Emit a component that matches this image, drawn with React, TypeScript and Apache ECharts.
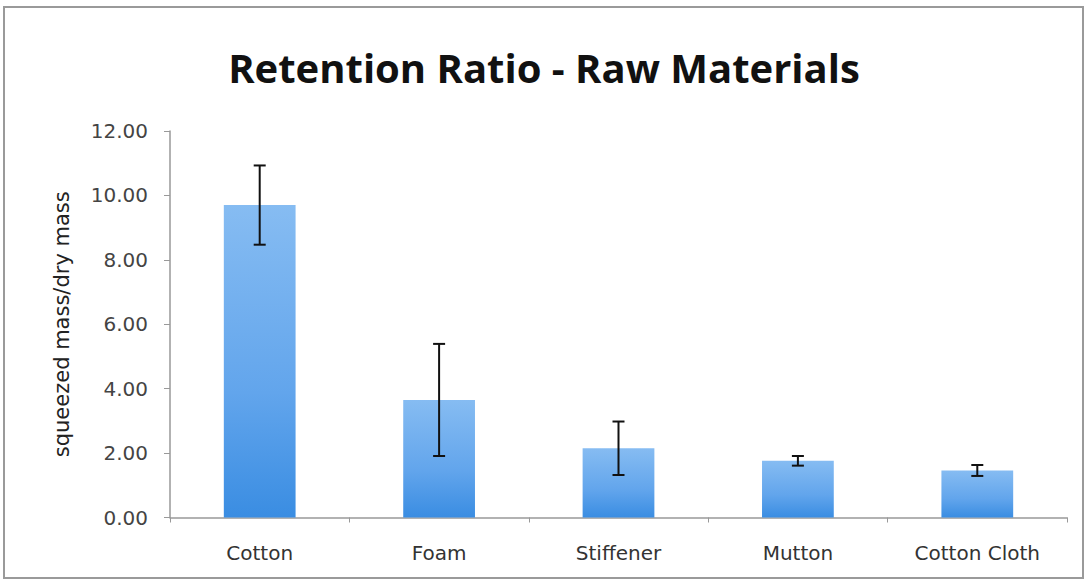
import React, { useEffect, useRef } from "react";
import * as echarts from "echarts";

const categories = ["Cotton", "Foam", "Stiffener", "Mutton", "Cotton Cloth"];
const means = [9.7, 3.65, 2.15, 1.76, 1.46];
const errors = [1.23, 1.74, 0.83, 0.15, 0.17];
const yTicks = { min: 0, max: 12, interval: 2 };

export default function App() {
  const ref = useRef<HTMLDivElement>(null);
  useEffect(() => {
    if (!ref.current) return;
    const chart = echarts.init(ref.current, null, { renderer: "svg" });
    const errData = categories.map((c, i) => [i, means[i] - errors[i], means[i] + errors[i]]);
    chart.setOption({
      animation: false,
      backgroundColor: "#ffffff",
      title: {
        text: "Retention Ratio - Raw Materials",
        left: "center",
        top: 42,
        textStyle: { fontFamily: "Open Sans", fontWeight: "bold", fontSize: 40, color: "#111" },
      },
      graphic: [
        {
          type: "rect",
          shape: { x: 4, y: 7, width: 1079, height: 571 },
          style: { fill: "none", stroke: "#9a9a9a", lineWidth: 2 },
          silent: true,
        },
      ],
      grid: { left: 170, right: 21, top: 131, bottom: 62.5 },
      xAxis: {
        type: "category",
        data: categories,
        axisLine: { lineStyle: { color: "#999", width: 1.5 } },
        axisTick: { show: true, length: 5, lineStyle: { color: "#999" } },
        axisLabel: { color: "#333", fontSize: 20, fontFamily: "DejaVu Sans", margin: 25 },
      },
      yAxis: {
        type: "value",
        min: yTicks.min,
        max: yTicks.max,
        interval: yTicks.interval,
        name: "squeezed mass/dry mass",
        nameLocation: "middle",
        nameGap: 98,
        nameTextStyle: { color: "#222", fontSize: 21, fontFamily: "DejaVu Sans" },
        axisLine: { show: true, lineStyle: { color: "#999", width: 1.5 } },
        axisTick: { show: true, length: 6, lineStyle: { color: "#999" } },
        splitLine: { show: false },
        axisLabel: {
          color: "#444",
          fontSize: 20,
          fontFamily: "DejaVu Sans",
          margin: 22,
          formatter: (v: number) => v.toFixed(2),
        },
      },
      series: [
        {
          type: "bar",
          data: means,
          barWidth: "40%",
          itemStyle: {
            color: new echarts.graphic.LinearGradient(0, 0, 0, 1, [
              { offset: 0, color: "#86bcf2" },
              { offset: 0.6, color: "#62a5ec" },
              { offset: 1, color: "#3a8de2" },
            ]),
          },
        },
        {
          type: "custom",
          data: errData,
          z: 10,
          renderItem: (params: any, api: any) => {
            const x = api.value(0);
            const lo = api.coord([x, api.value(1)]);
            const hi = api.coord([x, api.value(2)]);
            const cap = 6;
            const style = { stroke: "#111", lineWidth: 2 };
            return {
              type: "group",
              children: [
                { type: "line", shape: { x1: hi[0], y1: hi[1], x2: lo[0], y2: lo[1] }, style },
                { type: "line", shape: { x1: hi[0] - cap, y1: hi[1], x2: hi[0] + cap, y2: hi[1] }, style },
                { type: "line", shape: { x1: lo[0] - cap, y1: lo[1], x2: lo[0] + cap, y2: lo[1] }, style },
              ],
            };
          },
        },
      ],
    });
    return () => chart.dispose();
  }, []);
  return (
    <div
      ref={ref}
      style={{ position: "fixed", left: 0, top: 0, width: 1088, height: 580 }}
    />
  );
}
